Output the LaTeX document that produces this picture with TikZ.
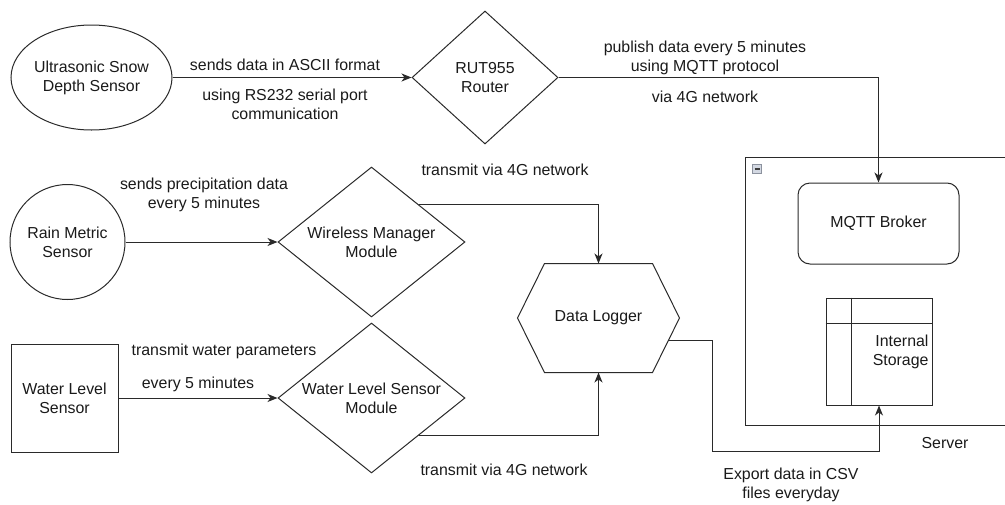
\documentclass[tikz,border=0pt]{standalone}
\usepackage{fontspec}
\setmainfont{Liberation Sans}
\usetikzlibrary{shapes.geometric,arrows.meta,calc}
\definecolor{ink}{HTML}{1A1A1A}
\definecolor{stroke}{HTML}{2A2A2A}
\definecolor{iconfill}{HTML}{D3D8E2}
\definecolor{iconedge}{HTML}{8C929E}
\begin{document}
\begin{tikzpicture}[x=1pt,y=-1pt,line width=1pt,
  every node/.style={font=\fontsize{15.9pt}{19pt}\selectfont, text=ink, inner sep=0pt},
  shapeline/.style={draw=stroke},
  inlabel/.style={label={[align=center]center:#1}},
  conn/.style={draw=stroke},
  arr/.style={conn, -{Stealth[length=10pt,width=8pt,inset=3pt]}},
  note/.style={align=center}]
\useasboundingbox (0,0) rectangle (1005,504);
\clip (0,0) rectangle (1005,504);

% server container with its collapse icon
\node[shapeline, minimum width=272, minimum height=268, anchor=north west] (server) at (745,157) {};
\draw[fill=iconfill, draw=iconedge, line width=0.7pt] (752.5,164.5) rectangle (761.5,173.5);
\draw[draw=ink!85, line width=1.3pt] (754.5,169) -- (759.5,169);
\node (servername) at (945,443) {Server};

\node[shapeline, rounded corners=12pt, minimum width=161, minimum height=81] (mqtt) at (878.5,223.5) {MQTT Broker};

% internal storage
\node[shapeline, minimum width=106, minimum height=107] (st) at (879,351.5) {};
\draw[conn] ([xshift=26pt]st.north west) -- ([xshift=26pt]st.south west);
\draw[conn] ([yshift=-26pt]st.north west) -- ([yshift=-26pt]st.north east);
\node[anchor=east, align=right] (stname) at (929,352) {Internal\\Storage};

% sensors
\node[shapeline, ellipse, minimum width=161, minimum height=105,
      inlabel={Ultrasonic Snow\\Depth Sensor}] (usd) at (91.5,77.5) {};
\node[shapeline, circle, minimum size=115,
      inlabel={Rain Metric\\Sensor}] (rain) at (67.5,242) {};
\node[shapeline, minimum width=107, minimum height=108,
      inlabel={Water Level\\Sensor}] (wls) at (64.5,398) {};

% routers and modules
\node[shapeline, diamond, minimum width=146, minimum height=133,
      inlabel={RUT955\\Router}] (router) at (485,77.5) {};
\node[shapeline, diamond, minimum width=187, minimum height=150,
      inlabel={Wireless Manager\\Module}] (wm) at (371.5,242) {};
\node[shapeline, diamond, minimum width=187, minimum height=150,
      inlabel={Water Level Sensor\\Module}] (wlsm) at (371.5,398) {};

% data logger hexagon
\node[minimum width=161, minimum height=108] (dl) at (598.5,318) {Data Logger};
\draw[shapeline] ([xshift=27pt]dl.north west) -- ([xshift=-27pt]dl.north east)
  -- (dl.east) -- ([xshift=-27pt]dl.south east) -- ([xshift=27pt]dl.south west)
  -- (dl.west) -- cycle;
\coordinate (dlout) at ([xshift=-11pt,yshift=-22pt]dl.east);
\coordinate (csvturn) at (712,451);

% connectors
\draw[arr] (usd.east) -- (router.west);
\draw[arr] (router.east) -| (mqtt.north);
\draw[arr] (rain.east) -- (wm.west);
\draw[arr] (wls.east) -- (wlsm.west);
\draw[arr] (wm.north east) -| (dl.north);
\draw[arr] (wlsm.south east) -| (dl.south);
\draw[arr] (dlout) -| (csvturn) -| (st.south);

% connector labels
\node[note] (l1) at (285,65) {sends data in ASCII format};
\node[note] (l2) at (285,104) {using RS232 serial port\\communication};
\node[note] (l3) at (705,58) {publish data every 5 minutes\\using MQTT protocol};
\node[note] (l4) at (705,97) {via 4G network};
\node[note] (l5) at (204,195) {sends precipitation data\\every 5 minutes};
\node[note] (l6) at (505,170) {transmit via 4G network};
\node[note] (l7) at (224,351) {transmit water parameters};
\node[note] (l8) at (198,384) {every 5 minutes};
\node[note] (l9) at (504,470) {transmit via 4G network};
\node[note] (l10) at (791,484.5) {Export data in CSV\\files everyday};
\end{tikzpicture}
\end{document}
